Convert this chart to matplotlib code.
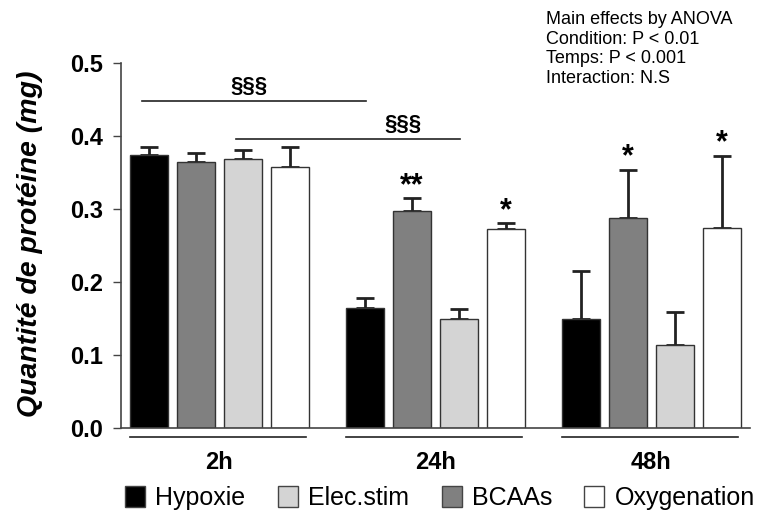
import numpy as np
import matplotlib
matplotlib.use("Agg")
import matplotlib.pyplot as plt
from matplotlib.patches import Patch

plt.rcParams['font.family'] = ['Liberation Sans', 'DejaVu Sans']

# data
times = ["2h", "24h", "48h"]
conditions = ["Hypoxie", "BCAAs", "Elec.stim", "Oxygenation"]
colors = ["#000000", "#808080", "#d4d4d4", "#ffffff"]
means = {
    "Hypoxie":     [0.374, 0.164, 0.149],
    "BCAAs":       [0.364, 0.297, 0.287],
    "Elec.stim":   [0.368, 0.149, 0.113],
    "Oxygenation": [0.357, 0.272, 0.274],
}
errors = {
    "Hypoxie":     [0.011, 0.014, 0.066],
    "BCAAs":       [0.012, 0.017, 0.066],
    "Elec.stim":   [0.012, 0.014, 0.046],
    "Oxygenation": [0.028, 0.008, 0.098],
}
stars = {
    "Hypoxie":     ["", "", ""],
    "BCAAs":       ["", "**", "*"],
    "Elec.stim":   ["", "", ""],
    "Oxygenation": ["", "*", "*"],
}
legend_order = ["Hypoxie", "Elec.stim", "BCAAs", "Oxygenation"]
anova_text = "Main effects by ANOVA\nCondition: P < 0.01\nTemps: P < 0.001\nInteraction: N.S"

group_step = 4.6
width = 0.8

fig = plt.figure(figsize=(7.61, 5.22), dpi=100)
ax = fig.add_axes([0.1586, 0.1806, 0.8269, 0.6993])

for i, cond in enumerate(conditions):
    x = np.arange(len(times)) * group_step + i
    ax.bar(x, means[cond], width=width, color=colors[i], edgecolor="#333333",
           linewidth=1.0, zorder=2)
    ax.errorbar(x, means[cond], yerr=[np.zeros(len(times)), errors[cond]],
                fmt="none", ecolor="#222222", elinewidth=2.0, capsize=6.5,
                capthick=2.0, zorder=1)
    for xi, m, e, s in zip(x, means[cond], errors[cond], stars[cond]):
        if s:
            ax.text(xi, m + e + 0.017, s, ha="center", va="center",
                    fontsize=22, fontweight="bold")

# significance bars between 2h and 24h
for x0, x1, yl in [(-0.15, 4.62, 0.447), (1.85, 6.62, 0.395)]:
    ax.plot([x0, x1], [yl, yl], color="#222222", lw=1.2, clip_on=False)
    ax.text((x0 + x1) / 2 - 0.1 if x0 < 0 else x1 - 1.2, yl + 0.006, "§§§",
            ha="center", va="bottom", fontsize=16, fontweight="bold")

# group underlines and labels
for g, t in enumerate(times):
    start = g * group_step
    ax.plot([start - 0.4, start + 3.35], [-0.013, -0.013], color="#222222",
            lw=1.2, clip_on=False)
    ax.text(start + 1.5, -0.048, t, ha="center", va="center", fontsize=17,
            fontweight="bold", transform=ax.transData)

ax.set_xlim(-0.6, 12.8)
ax.set_ylim(0, 0.5)
ax.set_yticks([0.0, 0.1, 0.2, 0.3, 0.4, 0.5])
ax.set_yticklabels(["0.0", "0.1", "0.2", "0.3", "0.4", "0.5"],
                   fontsize=17, fontweight="bold")
ax.set_xticks([])
ax.spines["top"].set_visible(False)
ax.spines["right"].set_visible(False)
ax.spines["left"].set_color("#444444")
ax.spines["bottom"].set_color("#444444")
ax.spines["left"].set_linewidth(1.2)
ax.spines["bottom"].set_linewidth(1.2)
ax.tick_params(axis="y", length=6, width=1, color="#444444", pad=7)
ax.set_ylabel("Quantité de protéine (mg)", fontsize=20.5, fontweight="bold",
              fontstyle="italic")
ax.yaxis.set_label_coords(-0.124, 0.505)

fig.text(546 / 761, 1 - 11 / 522, anova_text, ha="left", va="top",
         fontsize=13, linespacing=1.2)

handles = [Patch(facecolor=colors[conditions.index(c)], edgecolor="#444444",
                 linewidth=1) for c in legend_order]
fig.legend(handles, legend_order, loc="center", ncol=4,
           bbox_to_anchor=(440 / 761, 1 - 498 / 522), frameon=False,
           fontsize=18, handlelength=0.8, handleheight=0.9,
           handletextpad=0.4, columnspacing=1.3)

fig.savefig("out.png", dpi=100)
